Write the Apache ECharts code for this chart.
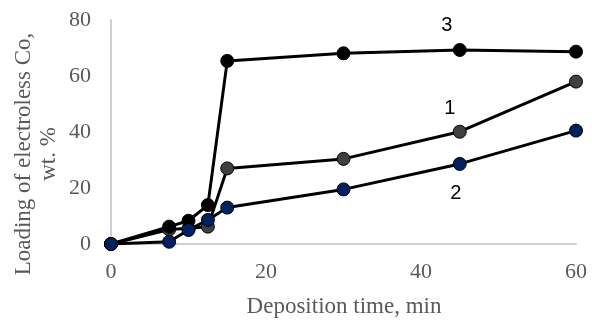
<!DOCTYPE html>
<html><head><meta charset="utf-8">
<script src="https://cdn.jsdelivr.net/npm/echarts@6/dist/echarts.min.js"></script>
<style>html,body{margin:0;padding:0;background:#fff}#c{width:592px;height:320px}</style>
</head><body><div id="c"></div>
<script>
const times = [0, 7.5, 10, 12.5, 15, 30, 45, 60];
const series1 = [0, 5.2, 5.6, 6.2, 27, 30.4, 40.1, 58];
const series2 = [0, 0.8, 5, 8.6, 13, 19.5, 28.6, 40.5];
const series3 = [0, 6.2, 8.3, 13.9, 65.4, 68.1, 69.3, 68.7];
const xTicks = [0, 20, 40, 60];
const yTicks = [0, 20, 40, 60, 80];
const xTitle = 'Deposition time, min';
const yTitle1 = 'Loading of electroless Co,';
const yTitle2 = 'wt. %';
const labelIndex = 6;

const pts = arr => times.map((t, i) => [t, arr[i]]);
function mk(name, arr, fill, off) {
  return {
    name: name, type: 'line', data: pts(arr).map((p, i) => i === labelIndex ? {
      value: p, label: { show: true, position: 'inside', offset: off, formatter: name,
        fontFamily: 'Liberation Sans', fontSize: 20, color: '#000' } } : p),
    symbol: 'circle', symbolSize: 13,
    lineStyle: { color: '#000', width: 3 },
    itemStyle: { color: fill, borderColor: '#000', borderWidth: 1 },
    animation: false, z: 2
  };
}
const chart = echarts.init(document.getElementById('c'));
const tickFont = { fontFamily: 'Liberation Serif', fontSize: 22, color: '#595959' };
const titleFont = { fontFamily: 'Liberation Serif', fontSize: 23, fill: '#595959' };
chart.setOption({
  backgroundColor: '#fff',
  grid: { left: 111, right: 16, top: 20, bottom: 76 },
  xAxis: { type: 'value', min: 0, max: 60, interval: 20,
    axisLine: { lineStyle: { color: '#cfcfcf', width: 2 } }, axisTick: { show: false },
    splitLine: { show: false },
    axisLabel: Object.assign({ margin: 17, formatter: v => xTicks.includes(v) ? String(v) : '' }, tickFont) },
  yAxis: { type: 'value', min: 0, max: 80, interval: 20,
    axisLine: { show: true, lineStyle: { color: '#cfcfcf', width: 2 } }, axisTick: { show: false },
    splitLine: { show: false },
    axisLabel: Object.assign({ margin: 20, formatter: v => yTicks.includes(v) ? String(v) : '' }, tickFont) },
  graphic: [
    { type: 'text', x: 344, y: 307, style: Object.assign({ text: xTitle, align: 'center', verticalAlign: 'middle' }, titleFont), silent: true },
    { type: 'text', x: 24, y: 154, rotation: Math.PI / 2, style: Object.assign({ text: yTitle1, align: 'center', verticalAlign: 'middle' }, titleFont), silent: true },
    { type: 'text', x: 49, y: 154, rotation: Math.PI / 2, style: Object.assign({ text: yTitle2, align: 'center', verticalAlign: 'middle' }, titleFont), silent: true }
  ],
  series: [
    mk('1', series1, '#404040', [-10, -23]),
    mk('3', series3, '#000000', [-13, -24]),
    mk('2', series2, '#002060', [-4, 30])
  ]
});
</script></body></html>
